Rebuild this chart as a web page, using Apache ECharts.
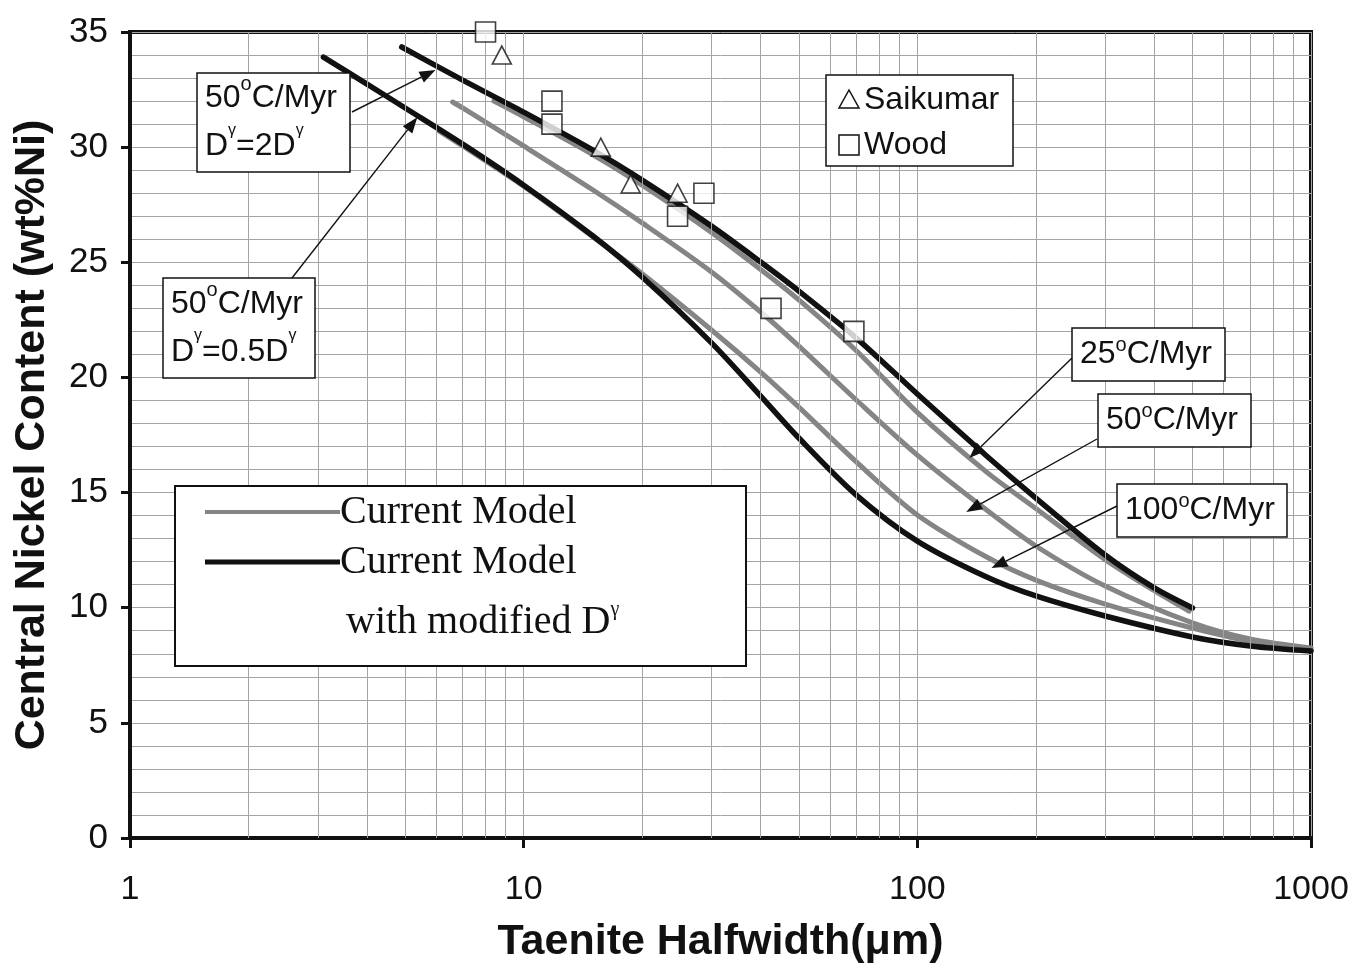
<!DOCTYPE html>
<html>
<head>
<meta charset="utf-8">
<script src="https://cdn.jsdelivr.net/npm/echarts@6/dist/echarts.min.js"></script>
<style>
  html, body { margin: 0; padding: 0; background: #ffffff; }
  #chart { width: 1351px; height: 965px; }
</style>
</head>
<body>
<div id="chart"></div>
<script>
// ---- data -------------------------------------------------------------
// Taenite halfwidth (µm) vs central Ni content (wt%)
const current25 = [[8.4,32.0],[10,31.32],[15,29.67],[20,28.35],[30,26.3],[40,24.69],[50,23.37],[70,21.16],[100,18.48],[150,15.89],[200,14.31],[300,12.09],[400,10.74],[490,9.85]];
const current50 = [[6.6,31.96],[7,31.7],[10,30.05],[15,28.14],[20,26.71],[30,24.58],[40,22.84],[50,21.36],[70,19.02],[100,16.63],[150,14.24],[200,12.68],[300,10.94],[500,9.34],[700,8.64],[1000,8.25]];
const current100 = [[6.1,30.7],[7,30.05],[10,28.3],[15,26.1],[20,24.5],[30,22.06],[40,20.23],[50,18.71],[70,16.33],[100,14.03],[150,12.2],[200,11.2],[300,10.16],[500,9.12],[700,8.55],[1000,8.21]];
const modified2D = [[4.9,34.35],[7,32.91],[10,31.52],[15,29.87],[20,28.57],[30,26.57],[40,25.01],[50,23.75],[70,21.71],[100,19.28],[150,16.59],[200,14.76],[300,12.29],[400,10.86],[500,9.99]];
const modifiedHalfD = [[3.1,33.91],[4,32.74],[5,31.7],[7,30.13],[10,28.35],[15,26.14],[20,24.36],[30,21.5],[40,19.19],[50,17.37],[70,14.89],[100,12.89],[150,11.33],[200,10.51],[300,9.64],[500,8.73],[700,8.34],[1000,8.12]];

const saikumar = [[8.8,34.0],[15.7,30.0],[18.7,28.4],[24.6,28.0]];
const wood = [[8.0,35.0],[11.8,32.0],[11.8,31.0],[24.6,27.0],[28.7,28.0],[42.5,23.0],[69.0,22.0]];

const xTickLabels = ['1', '10', '100', '1000'];
const xMinorValues = [2,3,4,5,6,7,8,9,20,30,40,50,60,70,80,90,200,300,400,500,600,700,800,900];

const seriesNames = ['Current Model', 'Current Model with modified D\u03b3'];
const legendLines = ['Current Model', 'Current Model', 'with modified D{g|\u03b3}'];
const markerNames = ['Saikumar', 'Wood'];

// annotation callouts: text lines and the point on the curve each arrow targets
const callouts = [
  { lines: ['50{s|o}C/Myr', 'D{g|\u03b3}=2D{g|\u03b3}'], target: [5.97, 33.35] },
  { lines: ['50{s|o}C/Myr', 'D{g|\u03b3}=0.5D{g|\u03b3}'], target: [5.37, 31.3] },
  { lines: ['25{s|o}C/Myr'], target: [135.6, 16.5] },
  { lines: ['50{s|o}C/Myr'], target: [133.1, 14.16] },
  { lines: ['100{s|o}C/Myr'], target: [154.3, 11.72] }
];

// ---- layout (pixels) --------------------------------------------------
const calloutLayout = [
  { box: [197, 73, 153, 99], from: [352, 112] },
  { box: [163, 278, 152, 100], from: [292, 278] },
  { box: [1072, 328, 153, 53], from: [1072, 358] },
  { box: [1098, 394, 153, 53], from: [1097, 439] },
  { box: [1117, 484, 170, 53], from: [1117, 506] }
];

const SANS = '"Liberation Sans", Arial, sans-serif';
const SERIF = '"Liberation Serif", "Times New Roman", serif';
const GRAY = '#858585';
const BLACK = '#111111';
const GRID = '#a4a4a4';

const chart = echarts.init(document.getElementById('chart'));

const lineSeries = (name, data, color, width, z) => ({
  name, type: 'line', data, smooth: 0.3, showSymbol: false, symbol: 'none',
  lineStyle: { color, width, cap: 'round', join: 'round' }, z, silent: true
});

chart.setOption({
  animation: false,
  backgroundColor: '#ffffff',
  grid: { left: 130, right: 40, top: 32, bottom: 127, outerBoundsMode: 'none', containLabel: false,
    show: true, borderColor: BLACK, borderWidth: 4, backgroundColor: 'transparent' },
  xAxis: {
    type: 'log', logBase: 10, min: 1, max: 1000,
    name: 'Taenite Halfwidth(\u03bcm)', nameLocation: 'middle', nameGap: 83,
    nameTextStyle: { fontFamily: SANS, fontWeight: 'bold', fontSize: 43, color: BLACK },
    axisLine: { show: true, lineStyle: { color: BLACK, width: 4 } },
    axisTick: { show: true, length: 10, lineStyle: { color: BLACK, width: 3 } },
    axisLabel: { margin: 35, fontFamily: SANS, fontSize: 34, color: BLACK,
      formatter: v => xTickLabels[Math.round(Math.log10(v))] },
    splitLine: { show: true, lineStyle: { color: GRID, width: 1 } }
  },
  yAxis: {
    type: 'value', min: 0, max: 35, interval: 5,
    name: 'Central Nickel Content (wt%Ni)', nameLocation: 'middle', nameGap: 76,
    nameTextStyle: { fontFamily: SANS, fontWeight: 'bold', fontSize: 43, color: BLACK },
    axisLine: { show: true, lineStyle: { color: BLACK, width: 4 } },
    axisTick: { show: true, length: 9, lineStyle: { color: BLACK, width: 3 } },
    axisLabel: { margin: 22, fontFamily: SANS, fontSize: 35, color: BLACK },
    splitLine: { show: true, lineStyle: { color: GRID, width: 1 } },
    minorTick: { show: false, splitNumber: 5 },
    minorSplitLine: { show: true, lineStyle: { color: GRID, width: 1 } }
  },
  series: [
    {
      name: 'minor-grid', type: 'line', data: [], z: 1, silent: true,
      markLine: {
        silent: true, symbol: ['none', 'none'], label: { show: false },
        lineStyle: { color: GRID, width: 1, type: 'solid' },
        emphasis: { disabled: true },
        data: xMinorValues.map(v => ({ xAxis: v }))
      }
    },
    lineSeries(seriesNames[0], current25, GRAY, 5, 2),
    lineSeries(seriesNames[0], current50, GRAY, 5, 2),
    lineSeries(seriesNames[0], current100, GRAY, 5, 2),
    lineSeries(seriesNames[1], modifiedHalfD, BLACK, 5.5, 3),
    lineSeries(seriesNames[1], modified2D, BLACK, 5.5, 3),
    {
      name: markerNames[0], type: 'scatter', data: saikumar, symbol: 'triangle', symbolSize: [19, 18],
      itemStyle: { color: '#ffffff', borderColor: BLACK, borderWidth: 1.6 }, z: 5, clip: false, silent: true
    },
    {
      name: markerNames[1], type: 'scatter', data: wood, symbol: 'rect', symbolSize: 20,
      itemStyle: { color: '#ffffff', borderColor: BLACK, borderWidth: 1.6 }, z: 5, clip: false, silent: true
    }
  ]
});

// ---- callouts, arrows and legends --------------------------------------
const graphics = [];
const richStyles = {
  s: { fontFamily: SANS, fontSize: 20, verticalAlign: 'top', lineHeight: 38, fill: BLACK },
  g: { fontFamily: SANS, fontSize: 16, verticalAlign: 'top', lineHeight: 38, fill: BLACK }
};

function arrow(from, to) {
  const dx = to[0] - from[0], dy = to[1] - from[1];
  const len = Math.hypot(dx, dy), ux = dx / len, uy = dy / len;
  const headLen = 16, headHalf = 6;
  const bx = to[0] - ux * headLen, by = to[1] - uy * headLen;
  graphics.push({ type: 'line', z: 20, shape: { x1: from[0], y1: from[1], x2: bx, y2: by },
    style: { stroke: BLACK, lineWidth: 1.4 } });
  graphics.push({ type: 'polygon', z: 20, shape: { points: [
      [to[0], to[1]], [bx - uy * headHalf, by + ux * headHalf], [bx + uy * headHalf, by - ux * headHalf]] },
    style: { fill: BLACK } });
}

callouts.forEach((c, i) => {
  const L = calloutLayout[i];
  const [bx, by, bw, bh] = L.box;
  graphics.push({ type: 'rect', z: 20, shape: { x: bx, y: by, width: bw, height: bh },
    style: { fill: '#ffffff', stroke: BLACK, lineWidth: 1.5 } });
  graphics.push({ type: 'text', z: 21, x: bx + 8, y: by + bh / 2,
    style: { text: c.lines.join('\n'), fontFamily: SANS, fontSize: 32, fill: BLACK,
      lineHeight: c.lines.length > 1 ? 48 : 38, verticalAlign: 'middle', align: 'left', rich: richStyles } });
  arrow(L.from, chart.convertToPixel({ gridIndex: 0 }, c.target));
});

// data-source legend
const mk = { box: [826, 75, 187, 91], rows: [100, 145], iconX: 849, textX: 864 };
graphics.push({ type: 'rect', z: 20, shape: { x: mk.box[0], y: mk.box[1], width: mk.box[2], height: mk.box[3] },
  style: { fill: '#ffffff', stroke: BLACK, lineWidth: 1.5 } });
graphics.push({ type: 'polygon', z: 21, shape: { points: [[mk.iconX, mk.rows[0] - 10], [mk.iconX - 10, mk.rows[0] + 8], [mk.iconX + 10, mk.rows[0] + 8]] },
  style: { fill: '#ffffff', stroke: BLACK, lineWidth: 1.5 } });
graphics.push({ type: 'rect', z: 21, shape: { x: mk.iconX - 10, y: mk.rows[1] - 10, width: 20, height: 20 },
  style: { fill: '#ffffff', stroke: BLACK, lineWidth: 1.5 } });
markerNames.forEach((n, i) => graphics.push({ type: 'text', z: 21, x: mk.textX, y: mk.rows[i],
  style: { text: n, fontFamily: SANS, fontSize: 32, fill: BLACK, verticalAlign: 'middle', align: 'left' } }));

// model legend
const lg = { box: [175, 486, 571, 180], rows: [512, 562, 622], sample: [205, 340] };
graphics.push({ type: 'rect', z: 20, shape: { x: lg.box[0], y: lg.box[1], width: lg.box[2], height: lg.box[3] },
  style: { fill: '#ffffff', stroke: BLACK, lineWidth: 2 } });
graphics.push({ type: 'line', z: 21, shape: { x1: lg.sample[0], y1: lg.rows[0], x2: lg.sample[1], y2: lg.rows[0] },
  style: { stroke: GRAY, lineWidth: 4 } });
graphics.push({ type: 'line', z: 21, shape: { x1: lg.sample[0], y1: lg.rows[1], x2: lg.sample[1], y2: lg.rows[1] },
  style: { stroke: BLACK, lineWidth: 5 } });
legendLines.forEach((t, i) => graphics.push({ type: 'text', z: 21, x: lg.sample[1] + (i === 2 ? 6 : 0), y: lg.rows[i],
  style: { text: t, fontFamily: SERIF, fontSize: 40, fill: BLACK, verticalAlign: 'middle', align: 'left',
    rich: { g: { fontFamily: SERIF, fontSize: 20, verticalAlign: 'top', lineHeight: 44, fill: BLACK } } } }));

chart.setOption({ graphic: graphics });
</script>
</body>
</html>
